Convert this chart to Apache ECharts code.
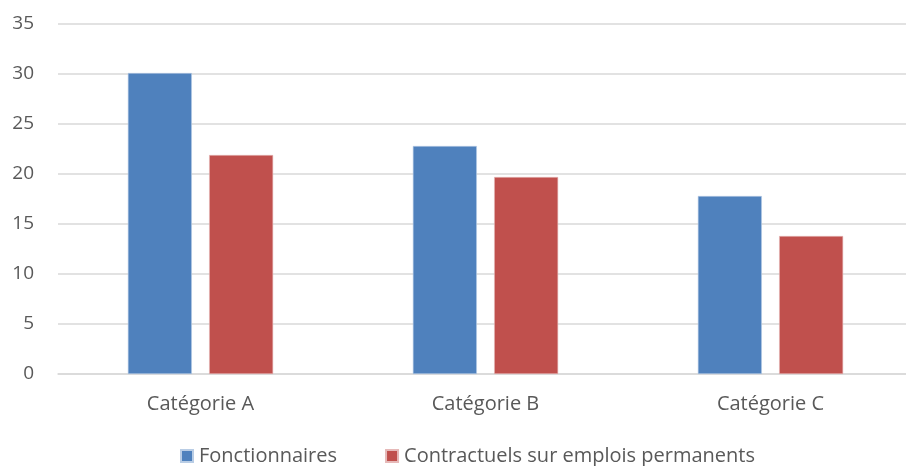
<!DOCTYPE html>
<html>
<head>
<meta charset="utf-8">
<script src="https://cdn.jsdelivr.net/npm/echarts@6/dist/echarts.min.js"></script>
<style>
  html, body { margin: 0; padding: 0; background: #fff; overflow: hidden; }
  #chart { width: 913px; height: 466px; }
</style>
</head>
<body>
<div id="chart"></div>
<script>
// Effectifs par catégorie
const categories = ['Catégorie A', 'Catégorie B', 'Catégorie C'];
const fonctionnaires = [30.1, 22.8, 17.8];
const contractuels = [21.9, 19.7, 13.8];
const seriesNames = ['Fonctionnaires', 'Contractuels sur emplois permanents'];

const FONT = '"Open Sans", "Noto Sans", sans-serif';
const TEXT = '#595959';

const chart = echarts.init(document.getElementById('chart'), null, { renderer: 'canvas' });
chart.setOption({
  animation: false,
  backgroundColor: '#ffffff',
  grid: { left: 58, right: 0, top: 24, bottom: 92, containLabel: false },
  legend: {
    top: 446,
    left: 180,
    padding: 0,
    itemWidth: 12,
    itemHeight: 12,
    itemGap: 48,
    icon: 'rect',
    textStyle: { color: TEXT, fontSize: 20, fontFamily: FONT, padding: [0, 0, 0, 1] },
    data: seriesNames
  },
  xAxis: {
    type: 'category',
    data: categories,
    axisLine: { show: true, lineStyle: { color: '#d9d9d9', width: 1.5 } },
    axisTick: { show: false },
    axisLabel: { color: TEXT, fontSize: 20, fontFamily: FONT, margin: 20 }
  },
  yAxis: {
    type: 'value',
    min: 0,
    max: 35,
    interval: 5,
    axisLine: { show: false },
    axisTick: { show: false },
    splitLine: { lineStyle: { color: '#d9d9d9', width: 1.5 } },
    axisLabel: { color: TEXT, fontSize: 19, fontFamily: FONT, margin: 24 }
  },
  series: [
    {
      name: seriesNames[0],
      type: 'bar',
      data: fonctionnaires,
      barWidth: 64,
      barGap: '27%',
      itemStyle: { color: '#4f81bd', borderColor: '#b9cde5', borderWidth: 0.6 }
    },
    {
      name: seriesNames[1],
      type: 'bar',
      data: contractuels,
      barWidth: 64,
      barGap: '27%',
      itemStyle: { color: '#c0504d', borderColor: '#e6b9b8', borderWidth: 0.6 }
    }
  ]
});
</script>
</body>
</html>
